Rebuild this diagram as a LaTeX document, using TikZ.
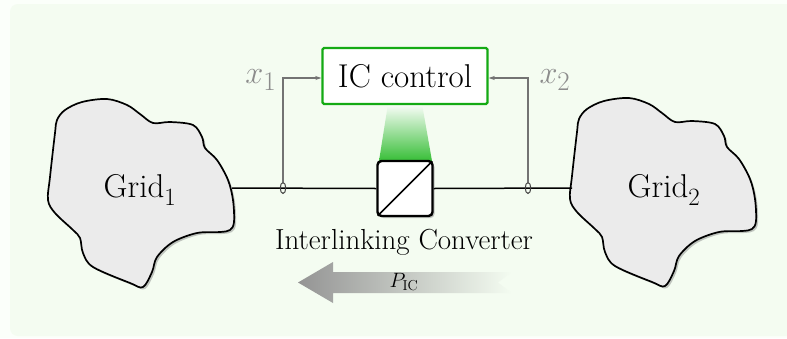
\documentclass[tikz,border=0pt]{standalone}
\usetikzlibrary{shapes.geometric,shadows,arrows.meta,calc}
\definecolor{pagebg}{RGB}{251,255,250}
\definecolor{panelbg}{RGB}{244,252,241}
\definecolor{ctrlgreen}{RGB}{20,170,20}
\definecolor{beamgreen}{RGB}{55,190,55}
\definecolor{sigline}{RGB}{115,115,115}
\definecolor{siglabel}{RGB}{140,140,140}
\definecolor{gridfill}{RGB}{235,235,235}
\newcommand{\gridoutline}{%
  plot[smooth cycle, tension=0.55] coordinates {
    (65,110) (82,102) (107,99) (127,105) (140,114) (153,123) (170,122)
    (193,125) (202,137) (205,148) (217,160) (228,180) (233,200) (234,222)
    (230,230) (220,232) (197,233) (173,242) (157,257) (152,272) (143,287)
    (130,283) (93,267) (83,253) (80,238) (73,230) (55,213) (48,200)
    (50,177) (55,133) (57,120)}}
% math labels are enlarged past the largest fixed math font size
\newcommand{\biglabel}[2]{\scalebox{#1}{#2}}
\tikzset{
  gridshape/.style={draw=black, line width=1.7pt, fill=gridfill,
    drop shadow={shadow xshift=2pt, shadow yshift=-2pt, opacity=0.45}},
  gridlabel/.style={font=\fontsize{33}{38}\selectfont, inner sep=0pt},
  ctrlbox/.style={draw=ctrlgreen, line width=2.4pt, fill=white, rounded corners=1.5pt,
    minimum width=165pt, minimum height=56pt, font=\fontsize{33}{38}\selectfont},
  convbox/.style={draw=black, line width=2.4pt, fill=white, rounded corners=4pt,
    minimum width=55pt, minimum height=55pt, inner sep=0pt,
    drop shadow={shadow xshift=2pt, shadow yshift=-2pt, opacity=0.45}},
  busline/.style={draw=black, line width=1.5pt},
  sensor/.style={ellipse, draw=black!75, line width=1pt, minimum width=5.5pt,
    minimum height=11pt, inner sep=0pt},
  sigwire/.style={draw=sigline, line width=1.1pt, -{Stealth[length=6pt,width=4pt]}},
  siglab/.style={text=siglabel, font=\fontsize{24.88}{30}\selectfont, inner sep=0pt},
  caption/.style={font=\fontsize{29}{34}\selectfont, inner sep=0pt},
}
\begin{document}
\begin{tikzpicture}[x=1pt,y=-1pt]
  % page and panel
  \fill[pagebg] (0,0) rectangle (787,338);
  \useasboundingbox (0,0) rectangle (787,338);
  \fill[panelbg, rounded corners=8pt] (10,4) rectangle (795,336);

  % power-flow arrow
  \shade[left color=black!42, right color=panelbg]
    (298,282.5) -- (333,262) -- (333,272) -- (512,272) -- (498,282.5)
    -- (512,293) -- (333,293) -- (333,303) -- cycle;
  \node[inner sep=0pt, font=\fontsize{20.74}{25}\selectfont] (pic) at (404,282) {$P_{\mathrm{IC}}$};

  % the two grids
  \path[gridshape] \gridoutline;
  \path[gridshape, shift={(522,-1)}] \gridoutline;
  \node[gridlabel] (grid1) at (140,190) {Grid$_1$};
  \node[gridlabel] (grid2) at (664,190) {Grid$_2$};
  \coordinate (g1port) at (232,188);
  \coordinate (g2port) at (572,188);

  % beam from the controller to the converter
  \shade[top color=panelbg!40!white, bottom color=beamgreen]
    (388,104) -- (422,104) -- (432,161) -- (379,161) -- cycle;

  % controller and converter
  \node[ctrlbox] (ctrl) at (405,76) {IC control};
  \node[convbox] (conv) at (405,188.5) {};
  \draw[line width=1.6pt] ($(conv.south west)+(1.5,-1.5)$) -- ($(conv.north east)+(-1.5,1.5)$);

  % bus
  \draw[busline] (g1port) -- (conv.west);
  \draw[busline] (conv.east) -- (g2port);

  % measurement points and feedback
  \node[sensor] (m1) at (283,188) {};
  \node[sensor] (m2) at (528,188) {};
  \draw[sigwire] (m1.north) |- (ctrl.west |- 0,78);
  \draw[sigwire] (m2.north) |- (ctrl.east |- 0,78);
  \node[siglab] (x1) at (261,80) {\biglabel{1.3}{$x_1$}};
  \node[siglab] (x2) at (555,80) {\biglabel{1.3}{$x_2$}};

  \node[caption] (iclabel) at (404,242) {Interlinking Converter};
\end{tikzpicture}
\end{document}
